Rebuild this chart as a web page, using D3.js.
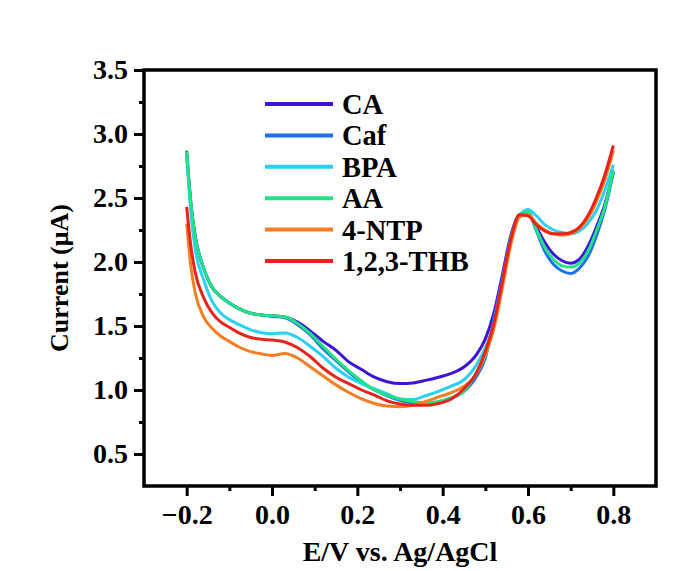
<!DOCTYPE html>
<html>
<head>
<meta charset="utf-8">
<script src="https://cdn.jsdelivr.net/npm/d3@7"></script>
<style>
  body { margin: 0; background: #fff; }
  text { font-family: "Liberation Serif", "Times New Roman", serif; font-weight: bold; fill: #000; }
</style>
</head>
<body>
<script>
// potential (V) shared by all the curves
var potential = [-0.2, -0.19, -0.18, -0.16, -0.14, -0.12, -0.1, -0.08, -0.05, -0.02,
  0.0, 0.03, 0.06, 0.09, 0.12, 0.15, 0.18, 0.21, 0.24, 0.27,
  0.30, 0.33, 0.36, 0.39, 0.42, 0.45, 0.48, 0.50, 0.52, 0.54,
  0.56, 0.58, 0.60, 0.62, 0.64, 0.66, 0.68, 0.70, 0.72, 0.74,
  0.76, 0.78, 0.80];

// currents (uA)
var CA = [2.85, 2.45, 2.20, 1.95, 1.80, 1.73, 1.68, 1.64, 1.60, 1.585,
  1.58, 1.57, 1.53, 1.46, 1.38, 1.31, 1.22, 1.16, 1.10, 1.065,
  1.05, 1.055, 1.075, 1.10, 1.13, 1.18, 1.28, 1.40, 1.60, 1.90,
  2.21, 2.37, 2.38, 2.27, 2.15, 2.06, 2.01, 1.99, 2.02, 2.12,
  2.27, 2.45, 2.70];
var Caf = [2.87, 2.45, 2.20, 1.95, 1.80, 1.73, 1.68, 1.64, 1.60, 1.585,
  1.575, 1.565, 1.51, 1.43, 1.32, 1.23, 1.14, 1.06, 1.00, 0.955,
  0.92, 0.90, 0.895, 0.905, 0.935, 0.99, 1.11, 1.25, 1.55, 1.87,
  2.20, 2.37, 2.39, 2.24, 2.08, 1.98, 1.93, 1.91, 1.95, 2.04,
  2.20, 2.41, 2.70];
var BPA = [2.84, 2.38, 2.10, 1.86, 1.69, 1.60, 1.55, 1.515, 1.47, 1.445,
  1.44, 1.445, 1.41, 1.34, 1.26, 1.17, 1.10, 1.05, 1.01, 0.97,
  0.93, 0.925, 0.955, 0.99, 1.03, 1.08, 1.20, 1.33, 1.52, 1.84,
  2.16, 2.36, 2.41, 2.36, 2.29, 2.25, 2.23, 2.22, 2.24, 2.30,
  2.40, 2.56, 2.76];
var AA = [2.86, 2.45, 2.20, 1.95, 1.80, 1.73, 1.68, 1.64, 1.60, 1.585,
  1.58, 1.57, 1.52, 1.44, 1.34, 1.24, 1.15, 1.07, 1.00, 0.96,
  0.93, 0.91, 0.90, 0.91, 0.94, 0.99, 1.14, 1.27, 1.50, 1.82,
  2.18, 2.37, 2.39, 2.25, 2.11, 2.02, 1.97, 1.96, 1.99, 2.08,
  2.24, 2.43, 2.72];
var NTP = [2.30, 1.96, 1.76, 1.57, 1.48, 1.42, 1.38, 1.34, 1.30, 1.28,
  1.27, 1.285, 1.25, 1.18, 1.11, 1.04, 0.98, 0.93, 0.895, 0.875,
  0.87, 0.88, 0.91, 0.945, 0.98, 1.03, 1.13, 1.28, 1.48, 1.80,
  2.14, 2.35, 2.37, 2.30, 2.25, 2.22, 2.21, 2.22, 2.26, 2.34,
  2.47, 2.64, 2.87];
var THB = [2.43, 2.12, 1.92, 1.72, 1.60, 1.53, 1.49, 1.45, 1.41, 1.395,
  1.39, 1.375, 1.33, 1.26, 1.17, 1.10, 1.05, 1.00, 0.96, 0.915,
  0.89, 0.88, 0.88, 0.895, 0.93, 1.01, 1.14, 1.30, 1.52, 1.85,
  2.18, 2.37, 2.36, 2.29, 2.24, 2.22, 2.22, 2.23, 2.27, 2.36,
  2.50, 2.68, 2.91];

var names = ["CA", "Caf", "BPA", "AA", "4-NTP", "1,2,3-THB"];
var colors = ["#3c14d8", "#1f6ff0", "#2cd0f0", "#22e283", "#f57d22", "#e8241a"];
var xTicks = [-0.2, 0.0, 0.2, 0.4, 0.6, 0.8];
var yTicks = [0.5, 1.0, 1.5, 2.0, 2.5, 3.0, 3.5];

var series = [CA, Caf, BPA, AA, NTP, THB];

var width = 697,
    height = 571;

var x = d3.scaleLinear().domain([-0.3, 0.9]).range([144, 656]);
var y = d3.scaleLinear().domain([0.25, 3.5]).range([486, 70]);

var svg = d3.select("body").append("svg")
    .attr("width", width)
    .attr("height", height);

var line = d3.line()
    .x(function(d) { return x(d[0]); })
    .y(function(d) { return y(d[1]); })
    .curve(d3.curveMonotoneX);

// curves
svg.append("g")
    .selectAll("path")
    .data(series)
    .enter().append("path")
    .attr("d", function(s) { return line(s.map(function(v, i) { return [potential[i], v]; })); })
    .attr("fill", "none")
    .attr("stroke", function(s, i) { return colors[i]; })
    .attr("stroke-width", 3)
    .attr("stroke-linejoin", "round");

// axes
svg.append("g")
    .attr("transform", "translate(0," + y(0.25) + ")")
    .call(d3.axisBottom(x).tickValues(xTicks).tickFormat(d3.format(".1f")).tickSize(10).tickPadding(8));
svg.append("g")
    .attr("transform", "translate(0," + y(0.25) + ")")
    .call(d3.axisBottom(x).tickValues([-0.1, 0.1, 0.3, 0.5, 0.7]).tickFormat("").tickSize(5));

svg.append("g")
    .attr("transform", "translate(" + x(-0.3) + ",0)")
    .call(d3.axisLeft(y).tickValues(yTicks).tickFormat(d3.format(".1f")).tickSize(10).tickPadding(6));
svg.append("g")
    .attr("transform", "translate(" + x(-0.3) + ",0)")
    .call(d3.axisLeft(y).tickValues([0.75, 1.25, 1.75, 2.25, 2.75, 3.25]).tickFormat("").tickSize(5));

svg.selectAll(".domain").remove();
svg.selectAll(".tick line").attr("stroke", "#000").attr("stroke-width", 3);
svg.selectAll(".tick text").attr("font-size", 28)
    .attr("font-family", "Liberation Serif").attr("font-weight", "bold");

// frame
svg.append("rect")
    .attr("x", x(-0.3))
    .attr("y", y(3.5))
    .attr("width", x(0.9) - x(-0.3))
    .attr("height", y(0.25) - y(3.5))
    .attr("fill", "none")
    .attr("stroke", "#000")
    .attr("stroke-width", 3.5);

// axis titles
svg.append("text")
    .attr("x", (x(-0.3) + x(0.9)) / 2)
    .attr("y", 561)
    .attr("text-anchor", "middle")
    .attr("font-size", 28)
    .text("E/V vs. Ag/AgCl");

svg.append("text")
    .attr("transform", "translate(68," + (y(0.25) + y(3.5)) / 2 + ") rotate(-90)")
    .attr("text-anchor", "middle")
    .attr("font-size", 26)
    .text("Current (\u03bcA)");

// legend
var legend = svg.append("g")
    .selectAll("g")
    .data(names)
    .enter().append("g")
    .attr("transform", function(d, i) { return "translate(265," + (104 + i * 31.4) + ")"; });

legend.append("line")
    .attr("x1", 0)
    .attr("x2", 68)
    .attr("stroke", function(d, i) { return colors[i]; })
    .attr("stroke-width", 4);

legend.append("text")
    .attr("x", 77)
    .attr("dy", "0.35em")
    .attr("font-size", 28.5)
    .text(function(d) { return d; });
</script>
</body>
</html>
